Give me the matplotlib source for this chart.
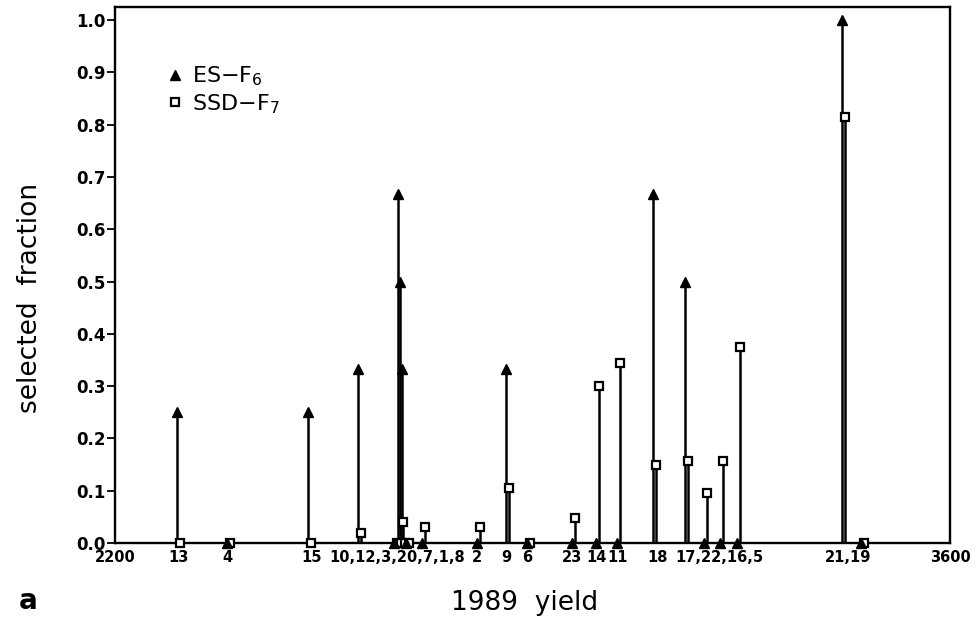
import matplotlib
matplotlib.use("Agg")
import matplotlib.pyplot as plt
from matplotlib.lines import Line2D

# ---- data ----
genotypes = ["13", "4", "15", "10", "12", "3", "20", "7", "1", "8", "2", "9", "6",
             "23", "14", "11", "18", "17", "22", "16", "5", "21", "19"]
yield_1989 = [2304, 2388, 2524, 2607, 2668, 2674, 2678, 2681, 2688, 2715, 2807, 2855, 2891,
              2966, 3006, 3041, 3102, 3156, 3188, 3214, 3243, 3419, 3451]
es_f6 = [0.25, 0.0, 0.25, 0.333, 0.0, 0.667, 0.5, 0.333, 0.0, 0.0, 0.0, 0.333, 0.0,
         0.0, 0.0, 0.0, 0.667, 0.5, 0.0, 0.0, 0.0, 1.0, 0.0]
ssd_f7 = [0.0, 0.0, 0.0, 0.02, 0.0, 0.0, 0.04, 0.0, 0.0, 0.03, 0.03, 0.105, 0.0,
          0.047, 0.30, 0.345, 0.15, 0.157, 0.095, 0.157, 0.375, 0.815, 0.0]

tick_labels = ["2200", "13", "4", "15", "10,12,3,20,7,1,8", "2", "9", "6", "23", "14", "11",
               "18", "17,22,16,5", "21,19", "3600"]
tick_positions = [2200, 2307, 2388, 2530, 2673, 2807, 2856, 2891, 2966, 3008, 3043,
                  3109, 3214, 3429, 3600]
y_ticks = [0.0, 0.1, 0.2, 0.3, 0.4, 0.5, 0.6, 0.7, 0.8, 0.9, 1.0]

ssd_offset = 5  # small horizontal shift so both stems are visible

fig = plt.figure(figsize=(9.78, 6.27), dpi=100)
ax = fig.add_axes([115/978, 1 - 543/627, 835/978, 536/627])

xs_ssd = [x + ssd_offset for x in yield_1989]

ax.vlines(yield_1989, 0, es_f6, colors="black", lw=1.8, zorder=2)
ax.vlines(xs_ssd, 0, ssd_f7, colors="black", lw=1.8, zorder=2)
ax.plot(xs_ssd, ssd_f7, linestyle="none", marker="s", markersize=6,
        markerfacecolor="white", markeredgecolor="black", markeredgewidth=1.6,
        zorder=3, clip_on=False)
ax.plot(yield_1989, es_f6, linestyle="none", marker="^", markersize=7.5,
        color="black", zorder=4, clip_on=False)

ax.set_xlim(2200, 3600)
ax.set_ylim(0, 1.025)

ax.set_yticks(y_ticks)
ax.set_yticklabels([f"{v:.1f}" for v in y_ticks], fontsize=12, fontweight="bold",
                   family="DejaVu Sans")
ax.tick_params(axis="y", direction="out", length=6, width=1.3, pad=1)

ax.set_xticks(tick_positions)
ax.set_xticklabels(tick_labels, fontsize=10.5, fontweight="bold", family="DejaVu Sans")
ax.tick_params(axis="x", length=0, pad=5)

for s in ax.spines.values():
    s.set_linewidth(1.7)

handles = [Line2D([], [], linestyle="none", marker="^", markersize=7.5, color="black"),
           Line2D([], [], linestyle="none", marker="s", markersize=6,
                  markerfacecolor="white", markeredgecolor="black", markeredgewidth=1.6)]
ax.legend(handles, [r"ES$-$F$_6$", r"SSD$-$F$_7$"], loc="upper left",
          bbox_to_anchor=(0.035, 0.93), frameon=False, fontsize=16,
          handletextpad=0.25, labelspacing=0.18, handlelength=1.0)

fig.text(30/978, 1 - 298/627, "selected  fraction", rotation=90, ha="center",
         va="center", fontsize=19)
fig.text(525/978, 1 - 603/627, "1989  yield", ha="center", va="center", fontsize=19)
fig.text(28/978, 1 - 601/627, "a", ha="center", va="center", fontsize=20,
         fontweight="bold")

fig.savefig("out.png", dpi=100)
